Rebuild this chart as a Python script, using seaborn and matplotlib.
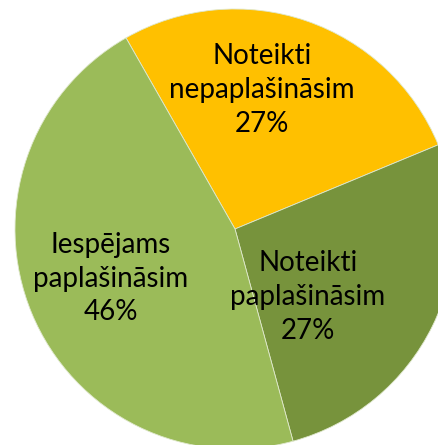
import matplotlib
matplotlib.use("Agg")
import matplotlib.pyplot as plt
import seaborn as sns

sns.set_style("white")
plt.rcParams['font.family'] = ['Lato', 'DejaVu Sans']

# Dati
labels = ["Noteikti\nnepaplašināsim", "Noteikti\npaplašināsim", "Iespējams\npaplašināsim"]
shares = [27, 27, 46]
colors = ["#FFC000", "#77933C", "#9BBB59"]
label_pos = [(0.123, 0.632), (0.332, -0.311), (-0.564, -0.225)]

fig = plt.figure(figsize=(4.38, 4.45), dpi=100)
ax = fig.add_axes([0, 0, 1, 1])

wedges, _ = ax.pie(shares, colors=colors, startangle=119.7, counterclock=False,
                   radius=1, wedgeprops=dict(edgecolor="#dfe8cc", linewidth=0.6))

for lab, val, (x, y) in zip(labels, shares, label_pos):
    ax.text(x, y, f"{lab}\n{val}%", ha="center", va="center", fontsize=20,
            linespacing=1.38, color="black")

r = 220.0
cx, cy = 235.0, 229.0
ax.set_xlim(-cx / r, (438 - cx) / r)
ax.set_ylim(-(445 - cy) / r, cy / r)
ax.set_aspect("equal")
ax.axis("off")

fig.savefig("out.png", dpi=100)
